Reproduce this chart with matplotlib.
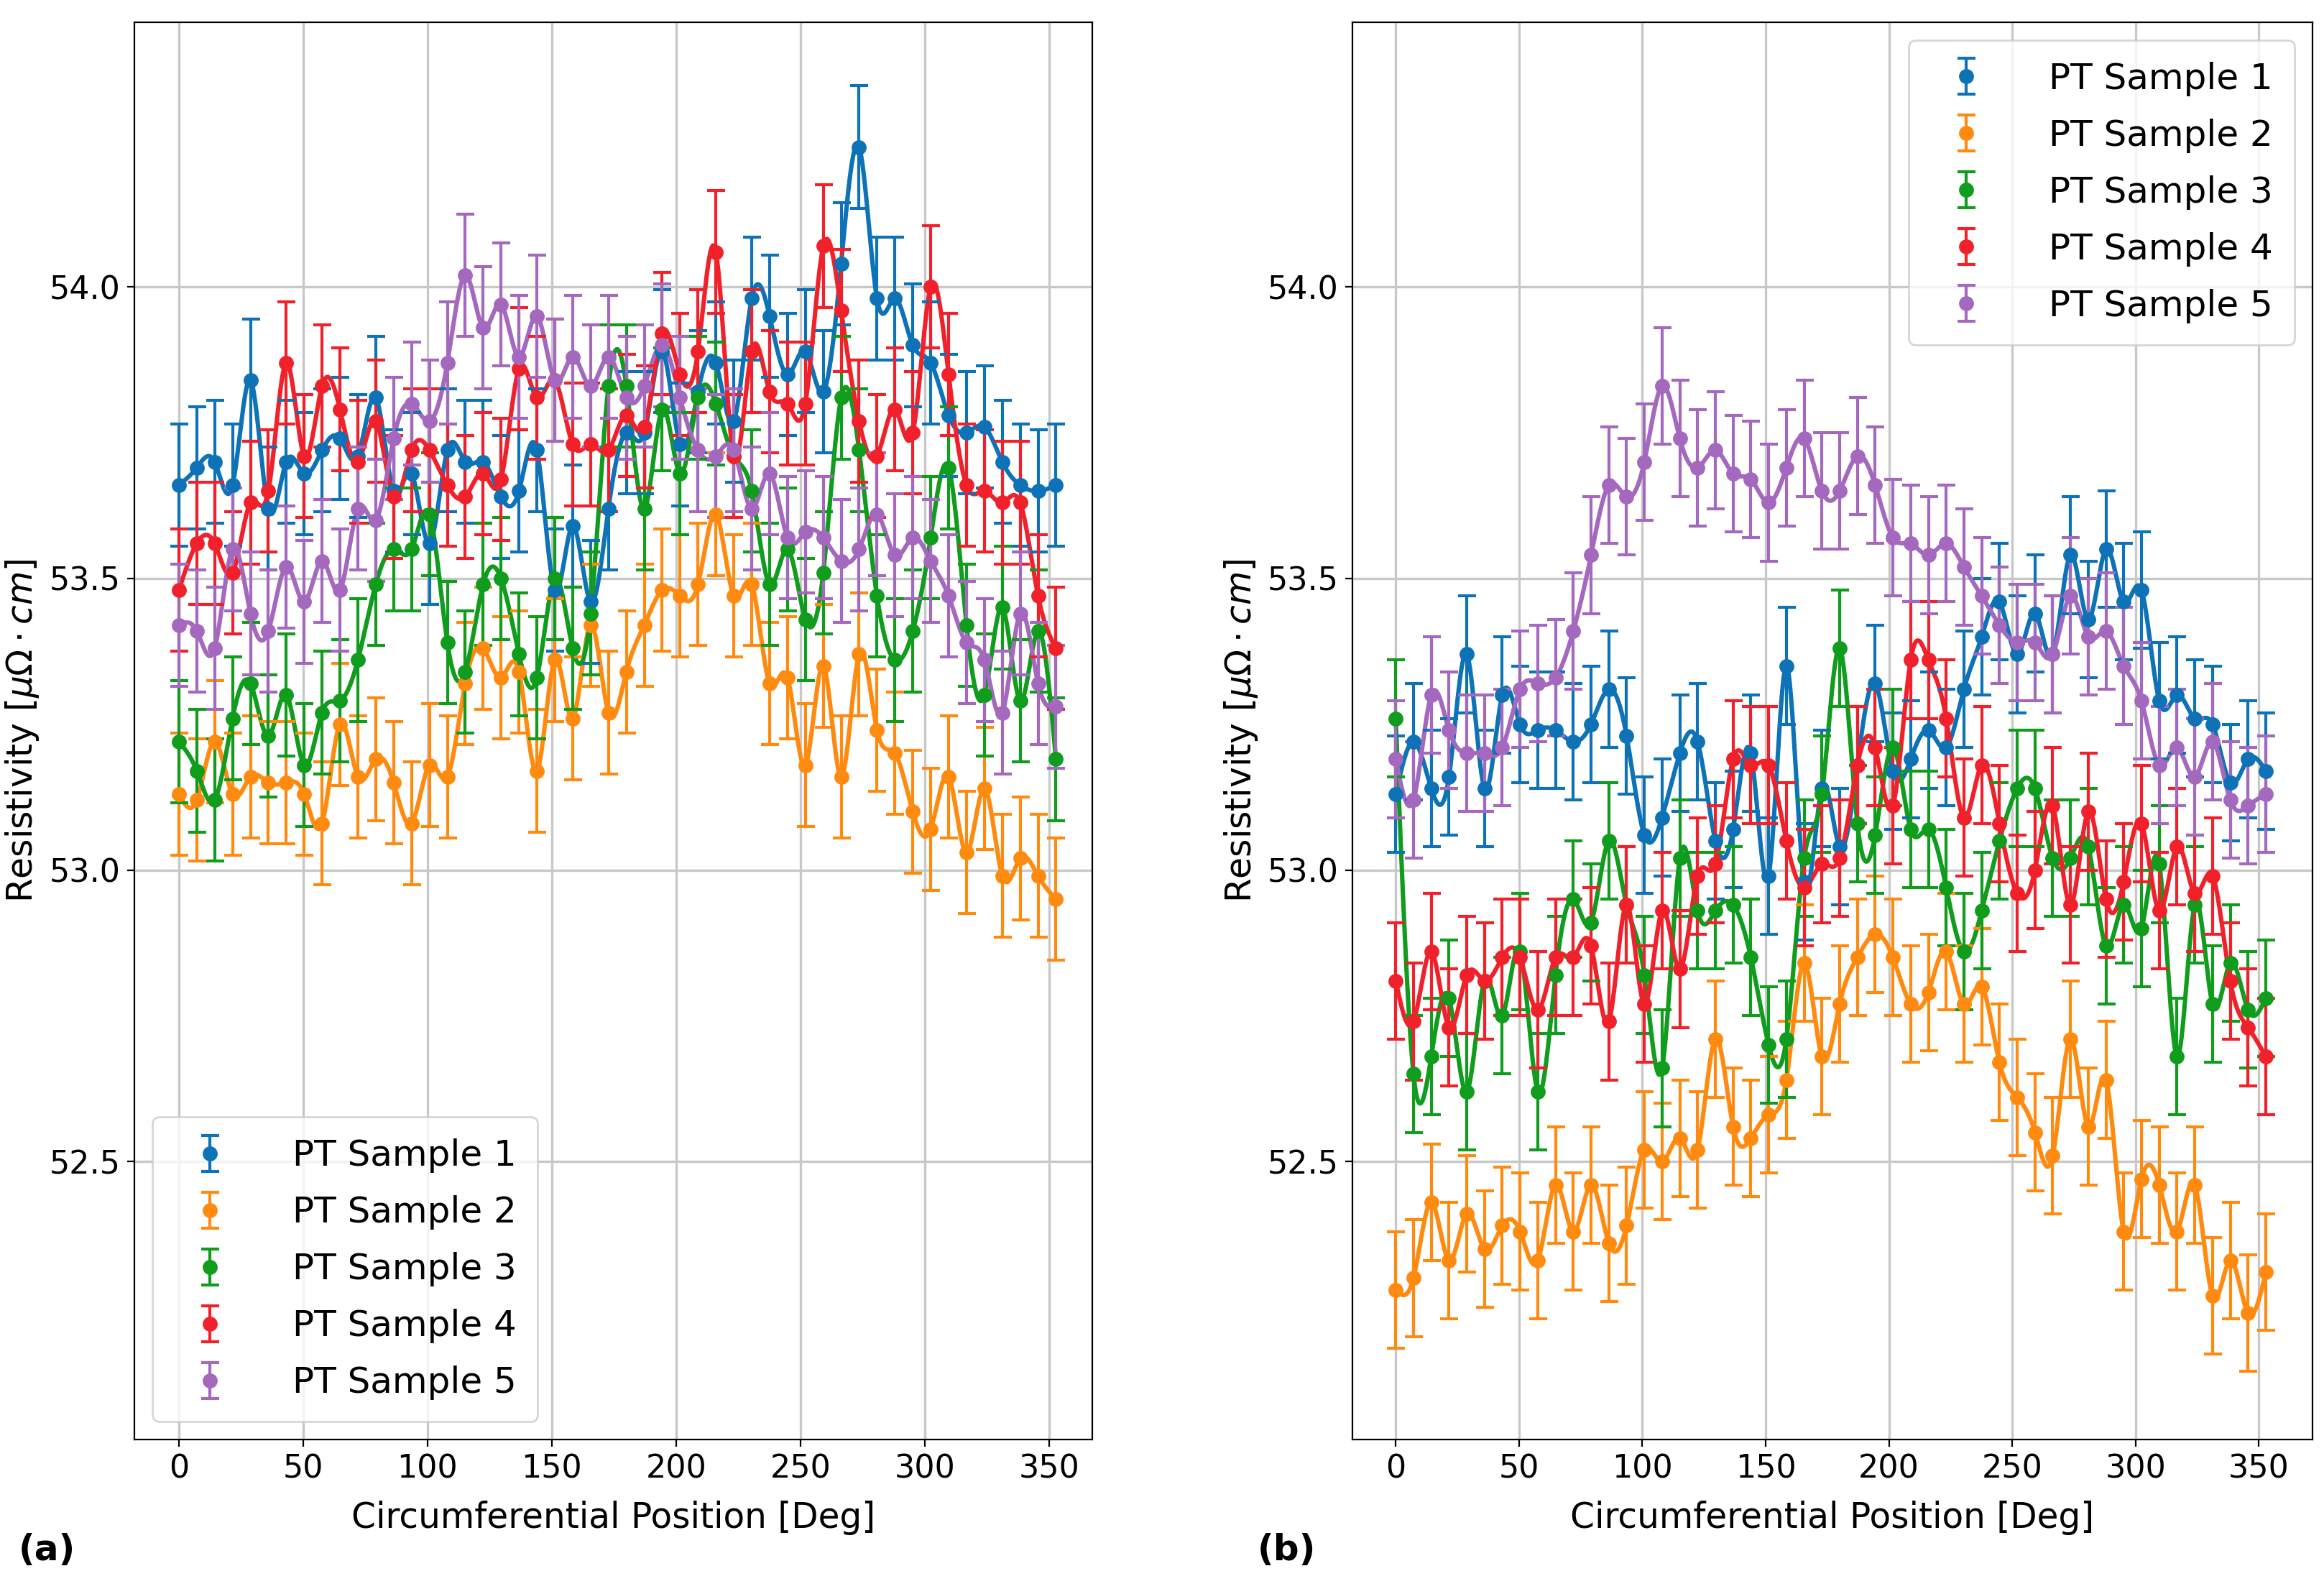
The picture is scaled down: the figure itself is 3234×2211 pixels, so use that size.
import numpy as np
import matplotlib
matplotlib.use("Agg")
import matplotlib.pyplot as plt

labels = ["PT Sample 1", "PT Sample 2", "PT Sample 3", "PT Sample 4", "PT Sample 5"]
colors = ["#0d72b6", "#ff8a10", "#109c1c", "#f0212a", "#a468bf"]
n_pts = 50
positions = np.arange(n_pts) * 360.0 / n_pts
err_a = 0.105
err_b = 0.1

a_s1 = [53.66,53.69,53.70,53.66,53.84,53.62,53.70,53.68,53.72,53.74,53.71,53.81,53.65,53.68,53.56,53.72,53.70,53.70,53.64,53.65,
        53.72,53.48,53.59,53.46,53.62,53.75,53.75,53.89,53.73,53.82,53.87,53.77,53.98,53.95,53.85,53.89,53.82,54.04,54.24,53.98,
        53.98,53.90,53.87,53.78,53.75,53.76,53.70,53.66,53.65,53.66]
a_s2 = [53.13,53.12,53.22,53.13,53.16,53.15,53.15,53.13,53.08,53.25,53.16,53.19,53.15,53.08,53.18,53.16,53.32,53.38,53.33,53.34,
        53.17,53.36,53.26,53.42,53.27,53.34,53.42,53.48,53.47,53.49,53.61,53.47,53.49,53.32,53.33,53.18,53.35,53.16,53.37,53.24,
        53.20,53.10,53.07,53.16,53.03,53.14,52.99,53.02,52.99,52.95]
a_s3 = [53.22,53.17,53.12,53.26,53.32,53.23,53.30,53.18,53.27,53.29,53.36,53.49,53.55,53.55,53.61,53.39,53.34,53.49,53.50,53.37,
        53.33,53.50,53.38,53.44,53.83,53.83,53.62,53.79,53.68,53.81,53.80,53.71,53.65,53.49,53.55,53.43,53.51,53.81,53.72,53.47,
        53.36,53.41,53.57,53.69,53.42,53.30,53.45,53.29,53.41,53.19]
a_s4 = [53.48,53.56,53.56,53.51,53.63,53.65,53.87,53.71,53.83,53.79,53.70,53.77,53.64,53.72,53.72,53.66,53.64,53.68,53.67,53.86,
        53.81,53.84,53.73,53.73,53.72,53.78,53.76,53.92,53.85,53.89,54.06,53.71,53.89,53.82,53.80,53.80,54.07,53.96,53.77,53.71,
        53.79,53.75,54.00,53.85,53.66,53.65,53.63,53.63,53.47,53.38]
a_s5 = [53.42,53.41,53.38,53.55,53.44,53.41,53.52,53.46,53.53,53.48,53.62,53.60,53.74,53.80,53.77,53.87,54.02,53.93,53.97,53.88,
        53.95,53.84,53.88,53.83,53.88,53.81,53.83,53.90,53.81,53.72,53.71,53.72,53.62,53.68,53.57,53.58,53.57,53.53,53.55,53.61,
        53.54,53.57,53.53,53.47,53.39,53.36,53.27,53.44,53.32,53.28]

b_s1 = [53.13,53.22,53.14,53.16,53.37,53.14,53.30,53.25,53.24,53.24,53.22,53.25,53.31,53.23,53.06,53.09,53.20,53.22,53.05,53.07,
        53.20,52.99,53.35,52.98,53.14,53.04,53.18,53.32,53.17,53.19,53.24,53.21,53.31,53.40,53.46,53.37,53.44,53.37,53.54,53.43,
        53.55,53.46,53.48,53.29,53.30,53.26,53.25,53.15,53.19,53.17]
b_s2 = [52.28,52.30,52.43,52.33,52.41,52.35,52.39,52.38,52.33,52.46,52.38,52.46,52.36,52.39,52.52,52.50,52.54,52.52,52.71,52.56,
        52.54,52.58,52.64,52.84,52.68,52.77,52.85,52.89,52.85,52.77,52.79,52.86,52.77,52.80,52.67,52.61,52.55,52.51,52.71,52.56,
        52.64,52.38,52.47,52.46,52.38,52.46,52.27,52.33,52.24,52.31]
b_s3 = [53.26,52.65,52.68,52.78,52.62,52.81,52.75,52.86,52.62,52.82,52.95,52.91,53.05,52.94,52.82,52.66,53.02,52.93,52.93,52.94,
        52.85,52.70,52.71,53.02,53.13,53.38,53.08,53.06,53.21,53.07,53.07,52.97,52.86,52.93,53.05,53.14,53.14,53.02,53.02,53.04,
        52.87,52.94,52.90,53.01,52.68,52.94,52.77,52.84,52.76,52.78]
b_s4 = [52.81,52.74,52.86,52.73,52.82,52.81,52.85,52.85,52.76,52.85,52.85,52.87,52.74,52.94,52.77,52.93,52.83,52.99,53.01,53.19,
        53.18,53.18,53.05,52.97,53.01,53.02,53.18,53.21,53.11,53.36,53.36,53.26,53.09,53.18,53.08,52.96,53.00,53.11,52.94,53.10,
        52.95,52.98,53.08,52.93,53.04,52.96,52.99,52.81,52.73,52.68]
b_s5 = [53.19,53.12,53.30,53.24,53.20,53.20,53.21,53.31,53.32,53.33,53.41,53.54,53.66,53.64,53.70,53.83,53.74,53.69,53.72,53.68,
        53.67,53.63,53.69,53.74,53.65,53.65,53.71,53.66,53.57,53.56,53.54,53.56,53.52,53.47,53.42,53.39,53.39,53.37,53.47,53.40,
        53.41,53.35,53.29,53.18,53.21,53.16,53.22,53.12,53.11,53.13]

panel_a = [a_s1, a_s2, a_s3, a_s4, a_s5]
panel_b = [b_s1, b_s2, b_s3, b_s4, b_s5]


def natural_spline(x, y, xs):
    x = np.asarray(x, float); y = np.asarray(y, float)
    n = len(x)
    h = np.diff(x)
    A = np.zeros((n, n)); r = np.zeros(n)
    A[0, 0] = A[-1, -1] = 1
    for i in range(1, n - 1):
        A[i, i - 1] = h[i - 1]; A[i, i] = 2 * (h[i - 1] + h[i]); A[i, i + 1] = h[i]
        r[i] = 6 * ((y[i + 1] - y[i]) / h[i] - (y[i] - y[i - 1]) / h[i - 1])
    M = np.linalg.solve(A, r)
    idx = np.clip(np.searchsorted(x, xs) - 1, 0, n - 2)
    x0, x1 = x[idx], x[idx + 1]; hh = x1 - x0
    t0 = x1 - xs; t1 = xs - x0
    return (M[idx] * t0**3 / (6 * hh) + M[idx + 1] * t1**3 / (6 * hh)
            + (y[idx] / hh - M[idx] * hh / 6) * t0 + (y[idx + 1] / hh - M[idx + 1] * hh / 6) * t1)


fig = plt.figure(figsize=(16.17, 11.055), dpi=200)
ax_a = fig.add_axes([0.0577, 0.094, 0.4123, 0.892])
ax_b = fig.add_axes([0.582, 0.094, 0.413, 0.892])

xs = np.linspace(positions[0], positions[-1], 1500)
for ax, data, err, xl, loc in [(ax_a, panel_a, err_a, (-18, 367.4), "lower left"),
                               (ax_b, panel_b, err_b, (-17.5, 371.7), "upper right")]:
    for vals, c, lab in zip(data, colors, labels):
        ax.plot(xs, natural_spline(positions, vals, xs), color=c, lw=2.2, zorder=2)
        ax.errorbar(positions, vals, yerr=err, fmt="o", color=c, ms=6.5, capsize=4.5,
                    elinewidth=1.5, capthick=1.5, label=lab, zorder=3)
    ax.set_xlim(*xl)
    ax.set_ylim(52.023, 54.454)
    ax.set_yticks([52.5, 53.0, 53.5, 54.0])
    ax.set_xticks(np.arange(0, 351, 50))
    ax.grid(True, color="#c8c8c8", lw=1.2)
    ax.set_axisbelow(True)
    ax.tick_params(labelsize=16)
    ax.set_xlabel("Circumferential Position [Deg]", fontsize=17.5, labelpad=8)
    ax.set_ylabel(r"Resistivity [$\mu\Omega \cdot cm$]", fontsize=17.5)
    ax.legend(loc=loc, fontsize=18, labelspacing=0.62, handletextpad=1.3, borderpad=0.6)

fig.text(0.008, 0.018, "(a)", fontsize=18, fontweight="bold")
fig.text(0.541, 0.018, "(b)", fontsize=18, fontweight="bold")
fig.savefig("out.png", dpi=200)
